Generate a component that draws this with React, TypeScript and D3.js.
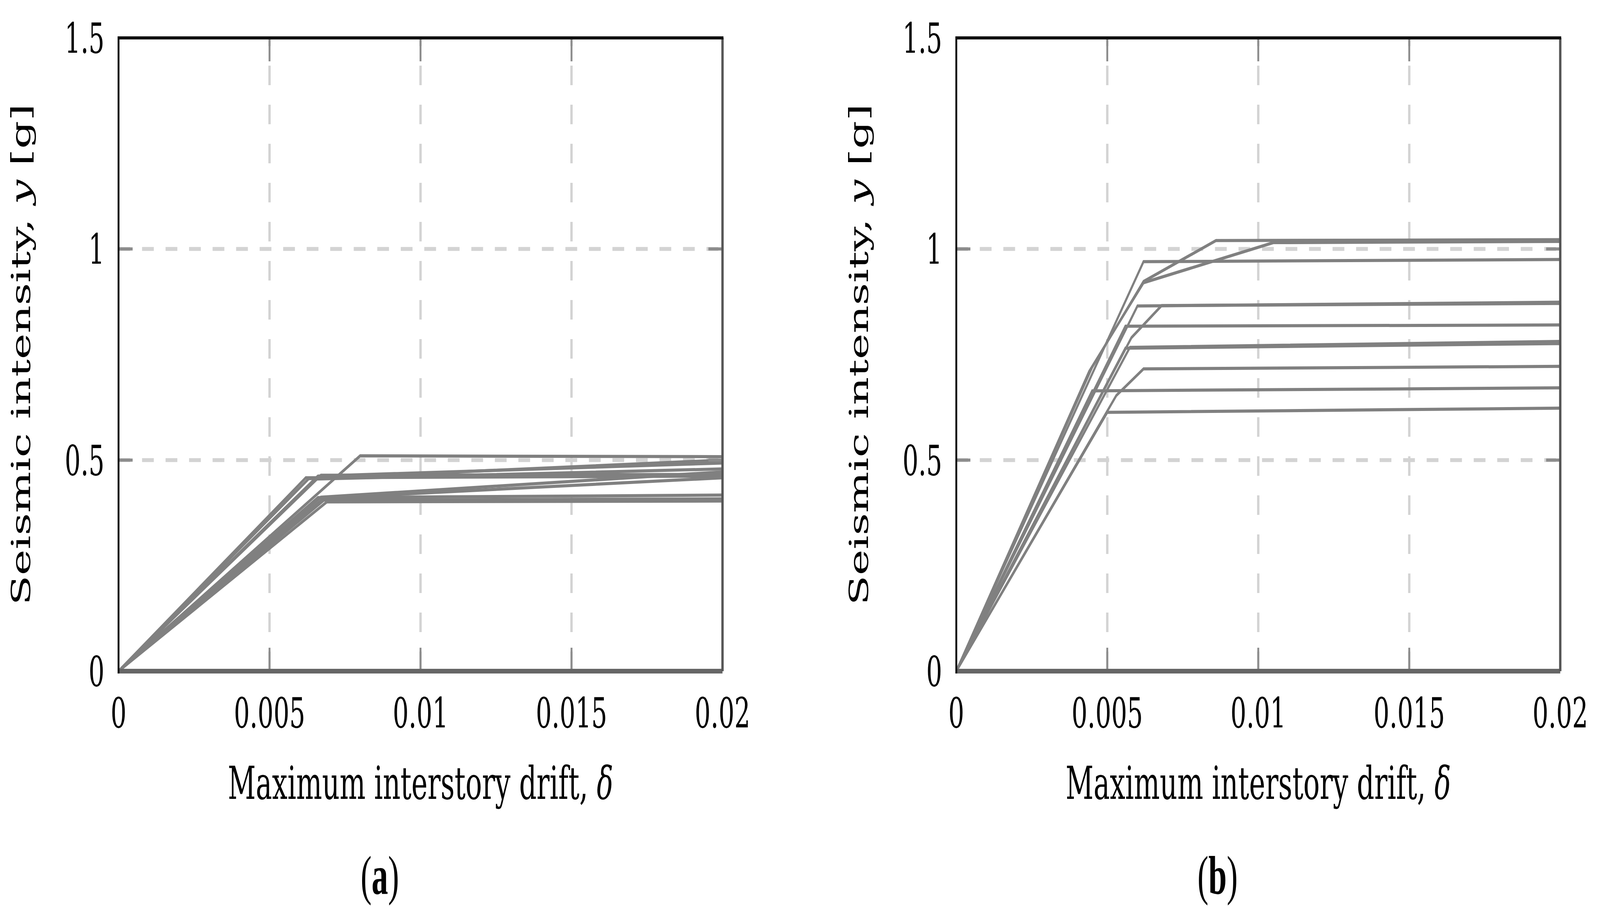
import React from 'react';
import * as d3 from 'd3';

// ---------- data ----------
const X_TICKS = [0, 0.005, 0.01, 0.015, 0.02];
const X_TICK_LABELS = ['0', '0.005', '0.01', '0.015', '0.02'];
const Y_TICKS = [0, 0.5, 1, 1.5];
const Y_TICK_LABELS = ['0', '0.5', '1', '1.5'];
const X_DOMAIN = [0, 0.02];
const Y_DOMAIN = [0, 1.5];

const X_TITLE = 'Maximum interstory drift, ';
const X_TITLE_SYMBOL = 'δ';
const Y_TITLE_START = 'Seismic intensity, ';
const Y_TITLE_SYMBOL = 'y';
const Y_TITLE_END = ' [g]';
const PANEL_LABELS = ['a', 'b'];

// panel (a): pushover-type curves, [drift, intensity]
const CURVES_A: [number, number][][] = [
  [[0, 0], [0.008, 0.51], [0.02, 0.508]],
  [[0, 0], [0.0062, 0.458], [0.02, 0.462]],
  [[0, 0], [0.0067, 0.464], [0.02, 0.466]],
  [[0, 0], [0.0063, 0.456], [0.02, 0.5]],
  [[0, 0], [0.0066, 0.462], [0.02, 0.493]],
  [[0, 0], [0.0068, 0.41], [0.02, 0.458]],
  [[0, 0], [0.0065, 0.455], [0.02, 0.479]],
  [[0, 0], [0.0068, 0.405], [0.02, 0.408]],
  [[0, 0], [0.0066, 0.411], [0.02, 0.417]],
  [[0, 0], [0.0069, 0.401], [0.02, 0.403]],
  [[0, 0], [0.0067, 0.412], [0.02, 0.472]],
];

// panel (b)
const CURVES_B: [number, number][][] = [
  [[0, 0], [0.0045, 0.72], [0.0062, 0.923], [0.0086, 1.02], [0.02, 1.022]],
  [[0, 0], [0.0044, 0.71], [0.0062, 0.92], [0.0105, 1.015], [0.02, 1.018]],
  [[0, 0], [0.0062, 0.97], [0.02, 0.975]],
  [[0, 0], [0.006, 0.865], [0.02, 0.874]],
  [[0, 0], [0.0058, 0.79], [0.0068, 0.866], [0.02, 0.871]],
  [[0, 0], [0.0056, 0.817], [0.02, 0.82]],
  [[0, 0], [0.00575, 0.767], [0.02, 0.781]],
  [[0, 0], [0.0056, 0.765], [0.02, 0.776]],
  [[0, 0], [0.0053, 0.653], [0.0062, 0.716], [0.02, 0.722]],
  [[0, 0], [0.0045, 0.664], [0.02, 0.671]],
  [[0, 0], [0.005, 0.613], [0.02, 0.623]],
];

// ---------- layout ----------
const W = 6803;
const H = 2355;
const PANEL_LEFTS = [504, 4066];
const PLOT_W = 2568;
const PLOT_TOP = 97;
const PLOT_BOTTOM = 1718;
const FONT = "'DejaVu Serif', serif";

type PanelProps = { left: number; curves: [number, number][][]; label: string; id: string };

function Panel({ left, curves, label, id }: PanelProps) {
  const right = left + PLOT_W;
  const x = d3.scaleLinear().domain(X_DOMAIN).range([left, right]);
  const y = d3.scaleLinear().domain(Y_DOMAIN).range([PLOT_BOTTOM, PLOT_TOP]);
  const line = d3
    .line<[number, number]>()
    .x((d) => x(d[0]))
    .y((d) => y(d[1]));
  const innerX = X_TICKS.filter((t) => t > X_DOMAIN[0] && t < X_DOMAIN[1]);
  const innerY = Y_TICKS.filter((t) => t > Y_DOMAIN[0] && t < Y_DOMAIN[1]);
  const tickLen = 60;
  const cx = (left + right) / 2;
  const cy = (PLOT_TOP + PLOT_BOTTOM) / 2;

  return (
    <g>
      <defs>
        <clipPath id={id}>
          <rect x={left} y={PLOT_TOP} width={PLOT_W} height={PLOT_BOTTOM - PLOT_TOP} />
        </clipPath>
      </defs>
      {/* grid */}
      {innerX.map((t) => (
        <line
          key={'gx' + t}
          x1={x(t)}
          x2={x(t)}
          y1={PLOT_BOTTOM}
          y2={PLOT_TOP}
          stroke="#d3d3d3"
          strokeWidth={10}
          strokeDasharray="50 50"
        />
      ))}
      {innerY.map((t) => (
        <line
          key={'gy' + t}
          x1={left}
          x2={right}
          y1={y(t)}
          y2={y(t)}
          stroke="#d3d3d3"
          strokeWidth={10}
          strokeDasharray="50 50"
        />
      ))}
      {/* data */}
      <g clipPath={`url(#${id})`}>
        {curves.map((c, i) => (
          <path key={i} d={line(c) || ''} fill="none" stroke="#808080" strokeWidth={8} />
        ))}
      </g>
      {/* ticks */}
      {innerX.map((t) => (
        <g key={'tx' + t}>
          <line x1={x(t)} x2={x(t)} y1={PLOT_BOTTOM} y2={PLOT_BOTTOM - tickLen} stroke="#8c8c8c" strokeWidth={8} />
          <line x1={x(t)} x2={x(t)} y1={PLOT_TOP} y2={PLOT_TOP + tickLen} stroke="#8c8c8c" strokeWidth={8} />
        </g>
      ))}
      {innerY.map((t) => (
        <g key={'ty' + t}>
          <line x1={left} x2={left + tickLen} y1={y(t)} y2={y(t)} stroke="#8c8c8c" strokeWidth={8} />
          <line x1={right} x2={right - tickLen} y1={y(t)} y2={y(t)} stroke="#8c8c8c" strokeWidth={8} />
        </g>
      ))}
      {/* frame */}
      <line x1={left} x2={right} y1={PLOT_BOTTOM} y2={PLOT_BOTTOM} stroke="#666" strokeWidth={12} />
      <line x1={right} x2={right} y1={PLOT_TOP} y2={PLOT_BOTTOM} stroke="#555" strokeWidth={10} />
      <line x1={left} x2={right + 4} y1={PLOT_TOP} y2={PLOT_TOP} stroke="#111" strokeWidth={8} />
      <line x1={left} x2={left} y1={PLOT_TOP - 4} y2={PLOT_BOTTOM + 6} stroke="#111" strokeWidth={8} />
      {/* tick labels */}
      {X_TICKS.map((t, i) => (
        <text
          key={'lx' + t}
          x={x(t)}
          y={PLOT_BOTTOM + 144}
          textAnchor="middle"
          fontFamily={FONT}
          fontSize={106}
          fill="#000"
        >
          {X_TICK_LABELS[i]}
        </text>
      ))}
      {Y_TICKS.map((t, i) => (
        <text
          key={'ly' + t}
          x={left - 60}
          y={y(t) + 38}
          textAnchor="end"
          fontFamily={FONT}
          fontSize={106}
          fill="#000"
        >
          {Y_TICK_LABELS[i]}
        </text>
      ))}
      {/* axis titles */}
      <text x={cx} y={PLOT_BOTTOM + 327} textAnchor="middle" fontFamily={FONT} fontSize={116} fill="#000">
        {X_TITLE}
        <tspan fontStyle="italic">{X_TITLE_SYMBOL}</tspan>
      </text>
      <text
        transform={`translate(${left - 376},${cy}) rotate(-90)`}
        textAnchor="middle"
        fontFamily={FONT}
        fontSize={112}
        fill="#000"
      >
        {Y_TITLE_START}
        <tspan fontStyle="italic">{Y_TITLE_SYMBOL}</tspan>
        {Y_TITLE_END}
      </text>
      {/* panel label */}
      <text
        x={left + 1111}
        y={2288}
        textAnchor="middle"
        fontFamily="'Liberation Serif', serif"
        fontSize={140}
        fill="#000"
      >
        (<tspan fontWeight="bold">{label}</tspan>)
      </text>
    </g>
  );
}

export default function App() {
  return (
    <svg
      viewBox={`0 0 ${W} ${H}`}
      preserveAspectRatio="none"
      style={{
        position: 'absolute',
        left: 0,
        top: 0,
        width: '100vw',
        height: '100vh',
        display: 'block',
        background: '#fff',
      }}
    >
      <rect x={0} y={0} width={W} height={H} fill="#fff" />
      <Panel left={PANEL_LEFTS[0]} curves={CURVES_A} label={PANEL_LABELS[0]} id="clipA" />
      <Panel left={PANEL_LEFTS[1]} curves={CURVES_B} label={PANEL_LABELS[1]} id="clipB" />
    </svg>
  );
}
